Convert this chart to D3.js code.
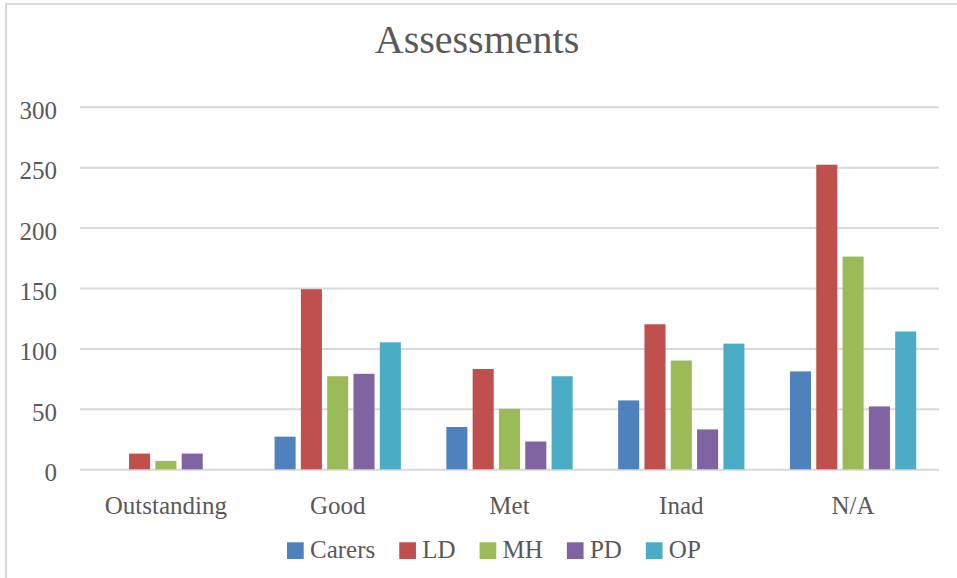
<!DOCTYPE html>
<html>
<head>
<meta charset="utf-8">
<script src="https://cdn.jsdelivr.net/npm/d3@7"></script>
<style>
  html, body { margin: 0; padding: 0; background: #ffffff; }
  svg { display: block; }
  text { font-family: "Liberation Serif", "Times New Roman", serif; fill: #595959; }
</style>
</head>
<body>
<svg id="chart" width="957" height="578"></svg>
<script>
const title = "Assessments";
const categories = ["Outstanding", "Good", "Met", "Inad", "N/A"];
const seriesNames = ["Carers", "LD", "MH", "PD", "OP"];
const seriesColors = ["#4F81BD", "#C0504D", "#9BBB59", "#8064A2", "#4BACC6"];
const carers = [0, 27, 35, 57, 81];
const ld = [13, 149, 83, 120, 252];
const mh = [7, 77, 50, 90, 176];
const pd = [13, 79, 23, 33, 52];
const op = [0, 105, 77, 104, 114];
const yTicks = [0, 50, 100, 150, 200, 250, 300];

const seriesValues = [carers, ld, mh, pd, op];

const svg = d3.select("#chart");
const W = 957, H = 578;
const plot = { left: 80, right: 939, top: 106.7, bottom: 469.3 };

// chart border
svg.append("rect")
  .attr("x", 6).attr("y", 4)
  .attr("width", W + 10).attr("height", H + 10)
  .attr("fill", "#ffffff")
  .attr("stroke", "#d9d9d9").attr("stroke-width", 2);

const x0 = d3.scaleBand().domain(categories).range([plot.left, plot.right]).paddingInner(0).paddingOuter(0);
const x1 = d3.scaleBand().domain(seriesNames).range([0, x0.bandwidth()]).paddingInner(0.2).paddingOuter(0.865);
const y = d3.scaleLinear().domain([0, 300]).range([plot.bottom, plot.top]);

// gridlines
const yAxis = d3.axisLeft(y).tickValues(yTicks).tickSize(-(plot.right - plot.left)).tickPadding(23);
const gy = svg.append("g").attr("transform", `translate(${plot.left},0)`).call(yAxis);
gy.select(".domain").remove();
gy.selectAll(".tick line").attr("stroke", "#d9d9d9").attr("stroke-width", 2);
gy.selectAll(".tick text")
  .attr("fill", "#595959")
  .attr("font-size", 25)
  .attr("font-family", "Liberation Serif, serif")
  .attr("dy", "0.46em");

// bars
const groups = svg.append("g").selectAll("g")
  .data(categories)
  .join("g")
  .attr("transform", c => `translate(${x0(c)},0)`);

groups.selectAll("rect")
  .data((c, ci) => seriesNames.map((s, si) => ({ s, si, v: seriesValues[si][ci] })))
  .join("rect")
  .attr("x", d => x1(d.s))
  .attr("width", x1.bandwidth())
  .attr("y", d => y(d.v))
  .attr("height", d => y(0) - y(d.v))
  .attr("fill", d => seriesColors[d.si]);

// category axis labels
const xAxis = d3.axisBottom(x0).tickSize(0).tickPadding(0);
const gx = svg.append("g").attr("transform", `translate(0,${plot.bottom})`).call(xAxis);
gx.select(".domain").remove();
gx.selectAll(".tick text")
  .attr("fill", "#595959")
  .attr("font-size", 25)
  .attr("font-family", "Liberation Serif, serif")
  .attr("dy", 0)
  .attr("y", 45);

// title
svg.append("text")
  .attr("x", 477)
  .attr("y", 53.3)
  .attr("text-anchor", "middle")
  .attr("font-size", 40)
  .text(title);

// legend
const legend = svg.append("g");
const items = legend.selectAll("g").data(seriesNames).join("g");
items.append("rect")
  .attr("width", 16.7).attr("height", 16.7)
  .attr("y", 542.3)
  .attr("fill", (d, i) => seriesColors[i]);
items.append("text")
  .attr("x", 23)
  .attr("y", 557.7)
  .attr("font-size", 25)
  .text(d => d);
let xpos = 0;
const offsets = [];
items.each(function() {
  const tw = d3.select(this).select("text").node().getComputedTextLength();
  offsets.push(xpos);
  xpos += 23 + tw + 24;
});
const startX = 287;
items.attr("transform", (d, i) => `translate(${startX + offsets[i]},0)`);
</script>
</body>
</html>
